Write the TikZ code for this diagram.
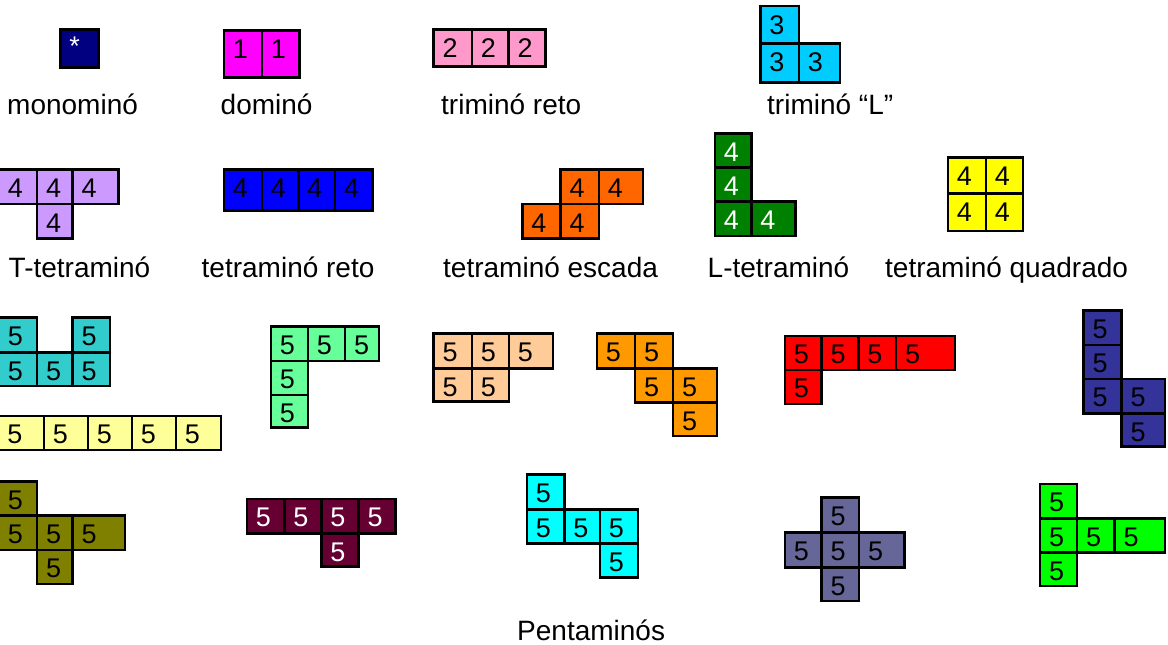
\documentclass[tikz,border=0pt]{standalone}
\usepackage{fontspec}
\setmainfont{Liberation Sans}
\definecolor{cNavy}{RGB}{0,0,128}
\definecolor{cMag}{RGB}{255,0,255}
\definecolor{cPink}{RGB}{255,153,204}
\definecolor{cSky}{RGB}{0,204,255}
\definecolor{cLav}{RGB}{204,153,255}
\definecolor{cBlue}{RGB}{0,0,255}
\definecolor{cOrgA}{RGB}{255,102,0}
\definecolor{cDGreen}{RGB}{0,128,0}
\definecolor{cYel}{RGB}{255,255,0}
\definecolor{cTeal}{RGB}{51,204,204}
\definecolor{cLYel}{RGB}{255,255,153}
\definecolor{cLGreen}{RGB}{102,255,153}
\definecolor{cPeach}{RGB}{255,204,153}
\definecolor{cOrgB}{RGB}{255,153,0}
\definecolor{cRed}{RGB}{255,0,0}
\definecolor{cSlate}{RGB}{51,51,153}
\definecolor{cOlive}{RGB}{128,128,0}
\definecolor{cMaroon}{RGB}{102,0,51}
\definecolor{cCyan}{RGB}{0,255,255}
\definecolor{cGrayBl}{RGB}{102,102,153}
\definecolor{cLime}{RGB}{0,255,0}
\tikzset{
  digit/.style={inner sep=0pt, font=\fontsize{27}{29}\selectfont},
  lbl/.style={inner sep=0pt, anchor=base west, font=\fontsize{28}{30}\selectfont},
  cellline/.style={draw=black, line width=2.5pt}
}
\newcommand\pcell[7]{%
  \filldraw[cellline, fill=#5] (#1,#2) rectangle (#3,#4);
  \node[digit, text=#6] at ({#1+16.5},{#2+18.8}) {#7};}
\begin{document}
\begin{tikzpicture}[x=1pt,y=-1pt]
\clip (0,0) rectangle (1168,645);
\fill[white] (0,0) rectangle (1168,645);
% monomino
\filldraw[cellline, fill=cNavy] (60.5,29.3) rectangle (98.7,67.7);
\node[digit, text=white, anchor=base] (ast) at (74.6,55.6) {*};
% domino
\pcell{223.9}{30.7}{261.8}{77.3}{cMag}{black}{1}
\pcell{261.8}{30.7}{299.3}{77.3}{cMag}{black}{1}
% trimino reto
\pcell{433.6}{29.3}{471.9}{66.7}{cPink}{black}{2}
\pcell{471.9}{29.3}{508.6}{66.7}{cPink}{black}{2}
\pcell{508.6}{29.3}{545.4}{66.7}{cPink}{black}{2}
% trimino L
\pcell{760.5}{6}{798.9}{43.3}{cSky}{black}{3}
\pcell{760.5}{43.3}{798.9}{82.3}{cSky}{black}{3}
\pcell{798.9}{43.3}{840.2}{82.3}{cSky}{black}{3}
% row 1 labels
\node[lbl] (l1) at (7,114) {monominó};
\node[lbl] (l2) at (220.5,114) {dominó};
\node[lbl] (l3) at (441,114) {triminó reto};
\node[lbl] (l4) at (767,114) {triminó “L”};
% T tetramino
\pcell{-1}{169.3}{37.1}{204}{cLav}{black}{4}
\pcell{37.1}{169.3}{72.7}{204}{cLav}{black}{4}
\pcell{72.7}{169.3}{118.6}{204}{cLav}{black}{4}
\pcell{37.1}{204}{72.7}{238.3}{cLav}{black}{4}
% tetramino reto
\pcell{223.9}{169.3}{261.8}{210.3}{cBlue}{black}{4}
\pcell{261.8}{169.3}{298.5}{210.3}{cBlue}{black}{4}
\pcell{298.5}{169.3}{335.2}{210.3}{cBlue}{black}{4}
\pcell{335.2}{169.3}{372.4}{210.3}{cBlue}{black}{4}
% tetramino escada
\pcell{560.7}{169.3}{598.9}{204}{cOrgA}{black}{4}
\pcell{598.9}{169.3}{642.8}{204}{cOrgA}{black}{4}
\pcell{522.4}{204}{560.7}{238.3}{cOrgA}{black}{4}
\pcell{560.7}{204}{598.9}{238.3}{cOrgA}{black}{4}
% L tetramino
\pcell{714.9}{133.3}{751.4}{167.7}{cDGreen}{white}{4}
\pcell{714.9}{167.7}{751.4}{201.7}{cDGreen}{white}{4}
\pcell{714.9}{201.7}{751.4}{236}{cDGreen}{white}{4}
\pcell{751.4}{201.7}{795.7}{236}{cDGreen}{white}{4}
% tetramino quadrado
\pcell{947.8}{157.7}{985.9}{193.3}{cYel}{black}{4}
\pcell{985.9}{157.7}{1023.2}{193.3}{cYel}{black}{4}
\pcell{947.8}{193.3}{985.9}{231}{cYel}{black}{4}
\pcell{985.9}{193.3}{1023.2}{231}{cYel}{black}{4}
% row 2 labels
\node[lbl] (l5) at (8.5,277.5) {T-tetraminó};
\node[lbl] (l6) at (201.5,277.5) {tetraminó reto};
\node[lbl] (l7) at (443,277.5) {tetraminó escada};
\node[lbl] (l8) at (707.5,277.5) {L-tetraminó};
\node[lbl] (l9) at (885,277.5) {tetraminó quadrado};
% U pentomino
\pcell{-1}{317.3}{37.1}{352.3}{cTeal}{black}{5}
\pcell{72.7}{317.3}{110.2}{352.3}{cTeal}{black}{5}
\pcell{-1}{352.3}{37.1}{386}{cTeal}{black}{5}
\pcell{37.1}{352.3}{72.7}{386}{cTeal}{black}{5}
\pcell{72.7}{352.3}{110.2}{386}{cTeal}{black}{5}
% I pentomino
\pcell{-1.5}{416}{44}{450}{cLYel}{black}{5}
\pcell{44}{416}{88}{450}{cLYel}{black}{5}
\pcell{88}{416}{132}{450}{cLYel}{black}{5}
\pcell{132}{416}{176}{450}{cLYel}{black}{5}
\pcell{176}{416}{221.2}{450}{cLYel}{black}{5}
% V pentomino
\pcell{271}{326.7}{308}{361}{cLGreen}{black}{5}
\pcell{308}{326.7}{345.2}{361}{cLGreen}{black}{5}
\pcell{345.2}{326.7}{378.9}{361}{cLGreen}{black}{5}
\pcell{271}{361}{308}{395}{cLGreen}{black}{5}
\pcell{271}{395}{308}{427.7}{cLGreen}{black}{5}
% P pentomino
\pcell{433.6}{333.3}{471.9}{368.3}{cPeach}{black}{5}
\pcell{471.9}{333.3}{509}{368.3}{cPeach}{black}{5}
\pcell{509}{333.3}{553}{368.3}{cPeach}{black}{5}
\pcell{433.6}{368.3}{471.9}{401.7}{cPeach}{black}{5}
\pcell{471.9}{368.3}{509}{401.7}{cPeach}{black}{5}
% W pentomino
\pcell{597}{333.3}{635.1}{368.3}{cOrgB}{black}{5}
\pcell{635.1}{333.3}{673.2}{368.3}{cOrgB}{black}{5}
\pcell{635.1}{368.3}{673.2}{402.3}{cOrgB}{black}{5}
\pcell{673.2}{368.3}{717}{402.3}{cOrgB}{black}{5}
\pcell{673.2}{402.3}{717}{436}{cOrgB}{black}{5}
% L pentomino
\pcell{784.8}{336}{821.7}{370}{cRed}{black}{5}
\pcell{821.7}{336}{858.3}{370}{cRed}{black}{5}
\pcell{858.3}{336}{896}{370}{cRed}{black}{5}
\pcell{896}{336}{955.1}{370}{cRed}{black}{5}
\pcell{784.8}{370}{821.7}{404}{cRed}{black}{5}
% N-like pentomino (slate)
\pcell{1083.7}{310.7}{1121.7}{345}{cSlate}{black}{5}
\pcell{1083.7}{345}{1121.7}{379}{cSlate}{black}{5}
\pcell{1083.7}{379}{1121.7}{413.3}{cSlate}{black}{5}
\pcell{1121.7}{379}{1165.2}{413.3}{cSlate}{black}{5}
\pcell{1121.7}{413.3}{1165.2}{446.7}{cSlate}{black}{5}
% F-like pentomino (olive)
\pcell{-1}{481.7}{37.1}{515.7}{cOlive}{black}{5}
\pcell{-1}{515.7}{37.1}{550}{cOlive}{black}{5}
\pcell{37.1}{515.7}{72.7}{550}{cOlive}{black}{5}
\pcell{72.7}{515.7}{125.1}{550}{cOlive}{black}{5}
\pcell{37.1}{550}{72.7}{584}{cOlive}{black}{5}
% Y pentomino (maroon)
\pcell{246.8}{499}{284.3}{533.3}{cMaroon}{white}{5}
\pcell{284.3}{499}{321.5}{533.3}{cMaroon}{white}{5}
\pcell{321.5}{499}{358.6}{533.3}{cMaroon}{white}{5}
\pcell{358.6}{499}{395.3}{533.3}{cMaroon}{white}{5}
\pcell{321.5}{533.3}{358.6}{566.7}{cMaroon}{white}{5}
% Z-like pentomino (cyan)
\pcell{527}{474.3}{564.5}{509.3}{cCyan}{black}{5}
\pcell{527}{509.3}{564.5}{543.3}{cCyan}{black}{5}
\pcell{564.5}{509.3}{600}{543.3}{cCyan}{black}{5}
\pcell{600}{509.3}{638}{543.3}{cCyan}{black}{5}
\pcell{600}{543.3}{638}{577.7}{cCyan}{black}{5}
% X pentomino
\pcell{821.7}{497.7}{859.1}{532.7}{cGrayBl}{black}{5}
\pcell{784.8}{532.7}{821.7}{567.3}{cGrayBl}{black}{5}
\pcell{821.7}{532.7}{859.1}{567.3}{cGrayBl}{black}{5}
\pcell{859.1}{532.7}{904.3}{567.3}{cGrayBl}{black}{5}
\pcell{821.7}{567.3}{859.1}{601}{cGrayBl}{black}{5}
% T-like pentomino (lime)
\pcell{1040.2}{484}{1077.2}{518.3}{cLime}{black}{5}
\pcell{1040.2}{518.3}{1077.2}{552.3}{cLime}{black}{5}
\pcell{1077.2}{518.3}{1114.5}{552.3}{cLime}{black}{5}
\pcell{1114.5}{518.3}{1165.2}{552.3}{cLime}{black}{5}
\pcell{1040.2}{552.3}{1077.2}{586}{cLime}{black}{5}
% caption
\node[lbl] (cap) at (517,640) {Pentaminós};
\end{tikzpicture}
\end{document}
